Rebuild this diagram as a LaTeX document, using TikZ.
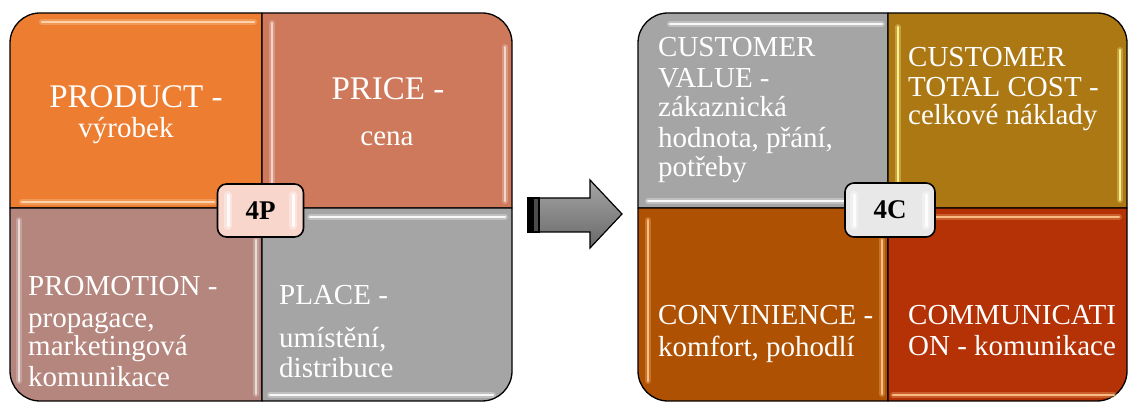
\documentclass[tikz,border=0pt]{standalone}
\usepackage{fontspec}
\setmainfont{Liberation Serif}
\definecolor{cProduct}{RGB}{237,125,49}
\definecolor{cPrice}{RGB}{206,121,91}
\definecolor{cPromo}{RGB}{181,134,126}
\definecolor{cPlace}{RGB}{165,165,165}
\definecolor{cValue}{RGB}{165,165,165}
\definecolor{cCost}{RGB}{172,120,20}
\definecolor{cConv}{RGB}{175,81,2}
\definecolor{cComm}{RGB}{180,50,5}
\definecolor{cBadgeP}{RGB}{248,214,204}
\definecolor{cBadgeC}{RGB}{232,232,232}
\definecolor{arrowTop}{RGB}{165,165,165}
\definecolor{arrowBot}{RGB}{105,105,105}
\begin{document}
\begin{tikzpicture}[x=1pt,y=1pt,
  tile/.style={draw=black, line width=1.3pt, line join=round},
  gloss/.style={draw=#1, line width=2.2pt, line cap=round, opacity=0.9,
    preaction={draw=#1, line width=6pt, line cap=round, opacity=0.3}},
  head/.style={text=white, font=\fontsize{33}{33}\selectfont, inner sep=0pt},
  body/.style={text=white, font=\fontsize{29}{29}\selectfont, inner sep=0pt},
  badge/.style={draw=black, line width=1.6pt, rounded corners=9pt,
    minimum width=86pt, minimum height=53pt, inner sep=0pt},
  badgetext/.style={font=\fontsize{27}{27}\selectfont\bfseries, inner sep=0pt},
  shine/.style={draw=white, line width=3pt, line cap=round, opacity=0.9,
    preaction={draw=white, line width=8pt, line cap=round, opacity=0.35}}]
\useasboundingbox (0,0) rectangle (1129,403);

% ---------- 4P panel ----------
\draw[tile, fill=cProduct] (10,195) -- (10,360) arc[start angle=180,end angle=90,radius=30] -- (262,390) -- (262,195) -- cycle;
\draw[tile, fill=cPrice] (262,195) -- (262,390) -- (482,390) arc[start angle=90,end angle=0,radius=30] -- (512,195) -- cycle;
\draw[tile, fill=cPromo] (10,195) -- (262,195) -- (262,2) -- (40,2) arc[start angle=270,end angle=180,radius=30] -- cycle;
\draw[tile, fill=cPlace] (262,195) -- (512,195) -- (512,32) arc[start angle=0,end angle=-90,radius=30] -- (262,2) -- cycle;

\draw[gloss=white!70!orange] (42,381) -- (254,381);
\draw[gloss=white!70!orange] (22,201) -- (214,201);
\draw[gloss=white!75!cPrice] (272,380) -- (272,203);
\draw[gloss=white!75!cPrice] (505,356) -- (505,202);
\draw[gloss=white!75!cPromo] (19,183) -- (19,22);
\draw[gloss=white!75!cPromo] (256,163) -- (256,9);
\draw[gloss=white] (310,186) -- (505,186);
\draw[gloss=white] (270,8) -- (493,8);

\node[head, anchor=base] (prodA) at (136,295) {PRODUCT -};
\node[body, anchor=base] (prodB) at (126,265) {výrobek};
\node[head, anchor=base] (priceA) at (388,303) {PRICE -};
\node[body, anchor=base] (priceB) at (387,257) {cena};
\node[body, anchor=base west] (promA) at (28,107) {PROMOTION -};
\node[body, anchor=base west] (promB) at (28,75) {propagace,};
\node[body, anchor=base west] (promC) at (28,47) {marketingová};
\node[body, anchor=base west] (promD) at (28,16) {komunikace};
\node[body, anchor=base west] (placeA) at (279,98) {PLACE -};
\node[body, anchor=base west] (placeB) at (279,55) {umístění,};
\node[body, anchor=base west] (placeC) at (279,25) {distribuce};

\node[badge, fill=cBadgeP] (fourP) at (260.5,192.5) {};
\draw[shine] (228,208) -- (228,177);
\draw[shine] (293,208) -- (293,177);
\node[badgetext] (fourPtext) at (fourP.center) {4P};

% ---------- block arrow ----------
\draw[line width=1.2pt, line join=miter, top color=arrowTop, bottom color=arrowBot]
  (539,171) -- (590,171) -- (590,155) -- (622,189) -- (590,223) -- (590,205) -- (539,205) -- cycle;
\fill[black] (528,171) rectangle (534,205);
\fill[black!70] (534,171) rectangle (539,205);
\draw[line width=1.2pt] (528,171) rectangle (539,205);

% ---------- 4C panel ----------
\draw[tile, fill=cValue] (638,195) -- (638,360) arc[start angle=180,end angle=90,radius=30] -- (888,390) -- (888,195) -- cycle;
\draw[tile, fill=cCost] (888,195) -- (888,390) -- (1097,390) arc[start angle=90,end angle=0,radius=30] -- (1127,195) -- cycle;
\draw[tile, fill=cConv] (638,195) -- (888,195) -- (888,2) -- (668,2) arc[start angle=270,end angle=180,radius=30] -- cycle;
\draw[tile, fill=cComm] (888,195) -- (1127,195) -- (1127,32) arc[start angle=0,end angle=-90,radius=30] -- (888,2) -- cycle;

\draw[gloss=white] (670,379) -- (882,379);
\draw[gloss=white] (648,202) -- (862,202);
\draw[gloss=white!60!yellow] (898,376) -- (898,202);
\draw[gloss=white!60!yellow] (1120,353) -- (1120,203);
\draw[gloss=white!55!orange] (648,183) -- (648,22);
\draw[gloss=white!55!orange] (882,163) -- (882,9);
\draw[gloss=white!55!orange] (904,186) -- (1119,186);
\draw[gloss=white!55!orange] (893,8) -- (1114,8);

\node[body, anchor=base west] (valA) at (658,346) {CUSTOMER};
\node[body, anchor=base west] (valB) at (658,315) {VALUE -};
\node[body, anchor=base west] (valC) at (658,286) {zákaznická};
\node[body, anchor=base west] (valD) at (658,255) {hodnota, přání,};
\node[body, anchor=base west] (valE) at (658,226) {potřeby};
\node[body, anchor=base west] (costA) at (908,336) {CUSTOMER};
\node[body, anchor=base west] (costB) at (908,306) {TOTAL COST -};
\node[body, anchor=base west] (costC) at (908,278) {celkové náklady};
\node[body, anchor=base west] (convA) at (658,78) {CONVINIENCE -};
\node[body, anchor=base west] (convB) at (658,46) {komfort, pohodlí};
\node[body, anchor=base west] (commA) at (908,78) {COMMUNICATI};
\node[body, anchor=base west] (commB) at (908,47) {ON - komunikace};

\node[badge, fill=cBadgeC, minimum width=90pt, minimum height=54pt] (fourC) at (890,193) {};
\draw[shine] (854,208) -- (854,177);
\draw[shine] (926,208) -- (926,177);
\node[badgetext] (fourCtext) at (fourC.center) {4C};
\end{tikzpicture}
\end{document}
